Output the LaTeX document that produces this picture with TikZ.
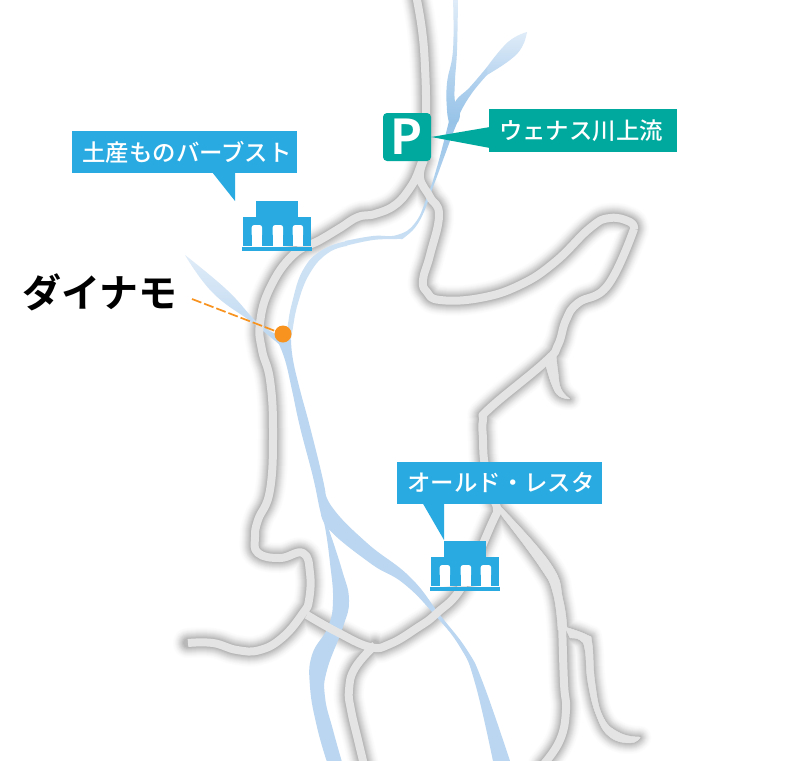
\documentclass[tikz,border=0pt]{standalone}
\usepackage{fontspec}
\newfontfamily\jp{Noto Sans CJK JP Bold}
\newfontfamily\jpm{Noto Sans CJK JP Medium}
\definecolor{signblue}{HTML}{29ABE2}
\definecolor{signteal}{HTML}{00A99D}
\definecolor{dotorange}{HTML}{F7931E}
\definecolor{roadgrey}{HTML}{E4E4E4}
\definecolor{riverdeep}{HTML}{BAD6F0}
\definecolor{riverdark}{HTML}{97C3E8}
\definecolor{rivermid}{HTML}{CCE1F4}
\definecolor{riverpale}{HTML}{E0ECF8}
\newcommand\RoadLines{
  plot[sm] coordinates {(416,-5) (422,30) (425,67) (426,113) (424,150) (419,170) (410,188) (395,205) (375,214) (358,217) (340,228) (320,240) (293,255) (270,288) (260,323) (262,350) (270,380) (273,430) (270,490) (258,520) (255,537) (258,553) (280,558) (303,553) (310,573) (309,600) (303,613) (283,637) (260,650) (237,650) (213,643) (188,643)}
  plot[sm] coordinates {(424,160) (420,178) (430,197) (439,215) (430,255) (423,280) (427,292) (440,300) (480,298) (520,285) (555,262) (590,228) (610,218) (630,222) (634,229)}
  plot[sm] coordinates {(634,229) (608,285) (578,303) (566,320) (558,345) (545,362) (490,408) (483,420) (483,440) (484,460) (487,475) (493,497) (497,510) (492,523) (463,585) (437,613) (417,628) (390,644) (370,647) (337,632) (307,615)}
  plot[sm] coordinates {(375,645) (355,668) (349,690) (351,710) (358,740) (364,765)}
  plot[sm] coordinates {(562,620) (564,683) (566,710) (560,740) (543,765)}
}
\newcommand\RoadTapers{
  plot[sm] coordinates {(497,503) (550,563) (563,600) (567,630)} -- plot[sm] coordinates {(558,630) (553,593) (540,567) (502,516)} -- cycle
  plot[sm] coordinates {(565,627) (587,635) (592,643) (595,683) (603,717) (620,733) (640,737)} -- plot[sm] coordinates {(640,738) (630,743) (610,737) (597,717) (588,683) (585,650) (580,640) (570,638)} -- cycle
  plot[sm] coordinates {(546,366) (552,385) (559,396) (570,399)} -- plot[sm] coordinates {(570,399) (561,389) (558,372) (556,355)} -- cycle
}
\tikzset{
  sm/.style={smooth,tension=0.75},
  river/.style={draw=none},
  sign/.style={fill=signblue,text=white,font=\jpm\fontsize{23.4}{23.4}\selectfont,inner sep=0pt,minimum height=42pt},
  building/.pic={
    \fill[signblue] (13,-16) rectangle (55.3,0);
    \fill[signblue] (0,0) rectangle (68.3,29);
    \fill[signblue] (-0.7,30.3) rectangle (69,34);
    \foreach \a in {8.7,29.7,49.7}{
      \fill[white,rounded corners=2.5pt] (\a,8) rectangle (\a+10.4,20);
      \fill[white] (\a,12) rectangle (\a+10.4,29.2);
    }
  }
}
\begin{document}
\begin{tikzpicture}[x=1pt,y=-1pt]
\useasboundingbox (0,0) rectangle (800,760);
\fill[white] (0,0) rectangle (800,760);
% soft shadow of the roads
\foreach \w/\k in {30/1,28/2,26/4,24/6,22/8,20/11,18/14,16/17,14/20,12/24,10/28}{
  \draw[black!\k,line width=\w pt,line join=round,line cap=round] \RoadLines;
  \pgfmathsetmacro\tw{\w-8}
  \filldraw[black!\k,line width=\tw pt,line join=round] \RoadTapers;
}
% rivers
\shade[river,top color=riverpale,bottom color=riverdark]
  plot[sm] coordinates {(453,-1) (453,50) (447,83) (447,110) (449,122)}
  -- plot[sm] coordinates {(458,122) (460,113) (455,102) (455,80) (457,50) (458,-1)} -- cycle;
\shade[river,top color=riverpale,middle color=riverdark,bottom color=riverdeep]
  plot[sm] coordinates {(527,32) (508,42) (487,67)}
  -- plot[sm] coordinates {(487,75) (510,60) (522,47) (527,32)} -- cycle;
\shade[river,top color=riverdeep,bottom color=riverdark]
  plot[sm] coordinates {(487,67) (470,87) (455,102) (449,122)}
  -- plot[sm] coordinates {(458,122) (460,113) (472,93) (487,75)} -- cycle;
\shade[river,top color=riverdark,middle color=rivermid,bottom color=rivermid]
  plot[sm] coordinates {(449,121) (437,167) (427,197) (415,223) (397,235) (373,236) (345,241)}
  -- plot[sm] coordinates {(345,246) (373,240) (397,239) (405,237) (420,220) (433,187) (443,160) (453,133) (458,121)} -- cycle;
\fill[rivermid]
  plot[sm] coordinates {(347,241) (322,250) (303,270) (292,303) (287,330) (284,345)}
  -- plot[sm] coordinates {(290,345) (292,333) (298,303) (310,273) (328,253) (347,246)} -- cycle;
\shade[river,top color=riverpale,bottom color=riverdeep]
  plot[sm] coordinates {(185,255) (227,290) (258,323) (279,335)}
  -- plot[sm] coordinates {(280,345) (253,323) (213,293) (185,255)} -- cycle;
\shade[river,top color=riverdeep,middle color=riverpale,bottom color=riverdeep]
  plot[sm] coordinates {(323,482) (332,507) (367,543) (410,577) (440,615) (467,650) (483,683) (510,761)}
  -- plot[sm] coordinates {(493,761) (475,683) (460,647) (433,613) (403,583) (370,563) (327,527) (322,505)} -- cycle;
\fill[riverdeep]
  plot[sm] coordinates {(277,340) (285,360) (292,390) (300,427) (313,477) (320,510) (325,527) (330,563) (333,600) (328,627) (312,655) (310,687) (317,727) (327,762)}
  -- plot[sm] coordinates {(342,762) (333,730) (325,697) (327,670) (343,627) (349,600) (342,570) (328,527)}
  -- plot[sm] coordinates {(328,527) (326,500) (323,480) (310,427) (300,390) (293,360) (291,340)} -- cycle;
% road surface
\draw[roadgrey,line width=8pt,line join=round] \RoadLines;
\filldraw[roadgrey,line width=0.5pt,line join=round] \RoadTapers;
% buildings
\pic at (243,217) {building};
\pic at (431,557) {building};
% blue signs
\node[sign,minimum width=225pt] (souvenir) at (184.5,152) {\hspace*{5pt}土産ものバーブスト};
\fill[signblue] (212,172) -- (235,201) -- (235,172) -- cycle;
\node[sign,minimum width=205pt] (lesta) at (499.5,482.5) {\hspace*{3pt}オールド・レスタ};
\fill[signblue] (422,502) -- (444,540) -- (444,502) -- cycle;
% parking
\node[fill=signteal,text=white,rounded corners=4pt,minimum size=48pt,inner sep=0pt,font=\jp\fontsize{48}{48}\selectfont] (parking) at (407,137) {P};
\node[sign,fill=signteal,minimum width=188pt,minimum height=43pt] (venus) at (583,130.5) {ウェナス川上流\hspace*{4pt}};
\fill[signteal] (parking.east) -- (490,127) -- (490,148) -- cycle;
% dynamo
\node[fill=dotorange,circle,minimum size=17pt,inner sep=0pt] (dynamodot) at (283,334) {};
\coordinate (dynamoend) at (192,299);
\draw[dotorange,line width=1.7pt,dash pattern=on 10pt off 3pt] (dynamoend) -- (dynamodot);
\node[font=\jp\fontsize{39}{39}\selectfont,inner sep=0pt] (dynamo) at (100,292) {ダイナモ};
\end{tikzpicture}
\end{document}
